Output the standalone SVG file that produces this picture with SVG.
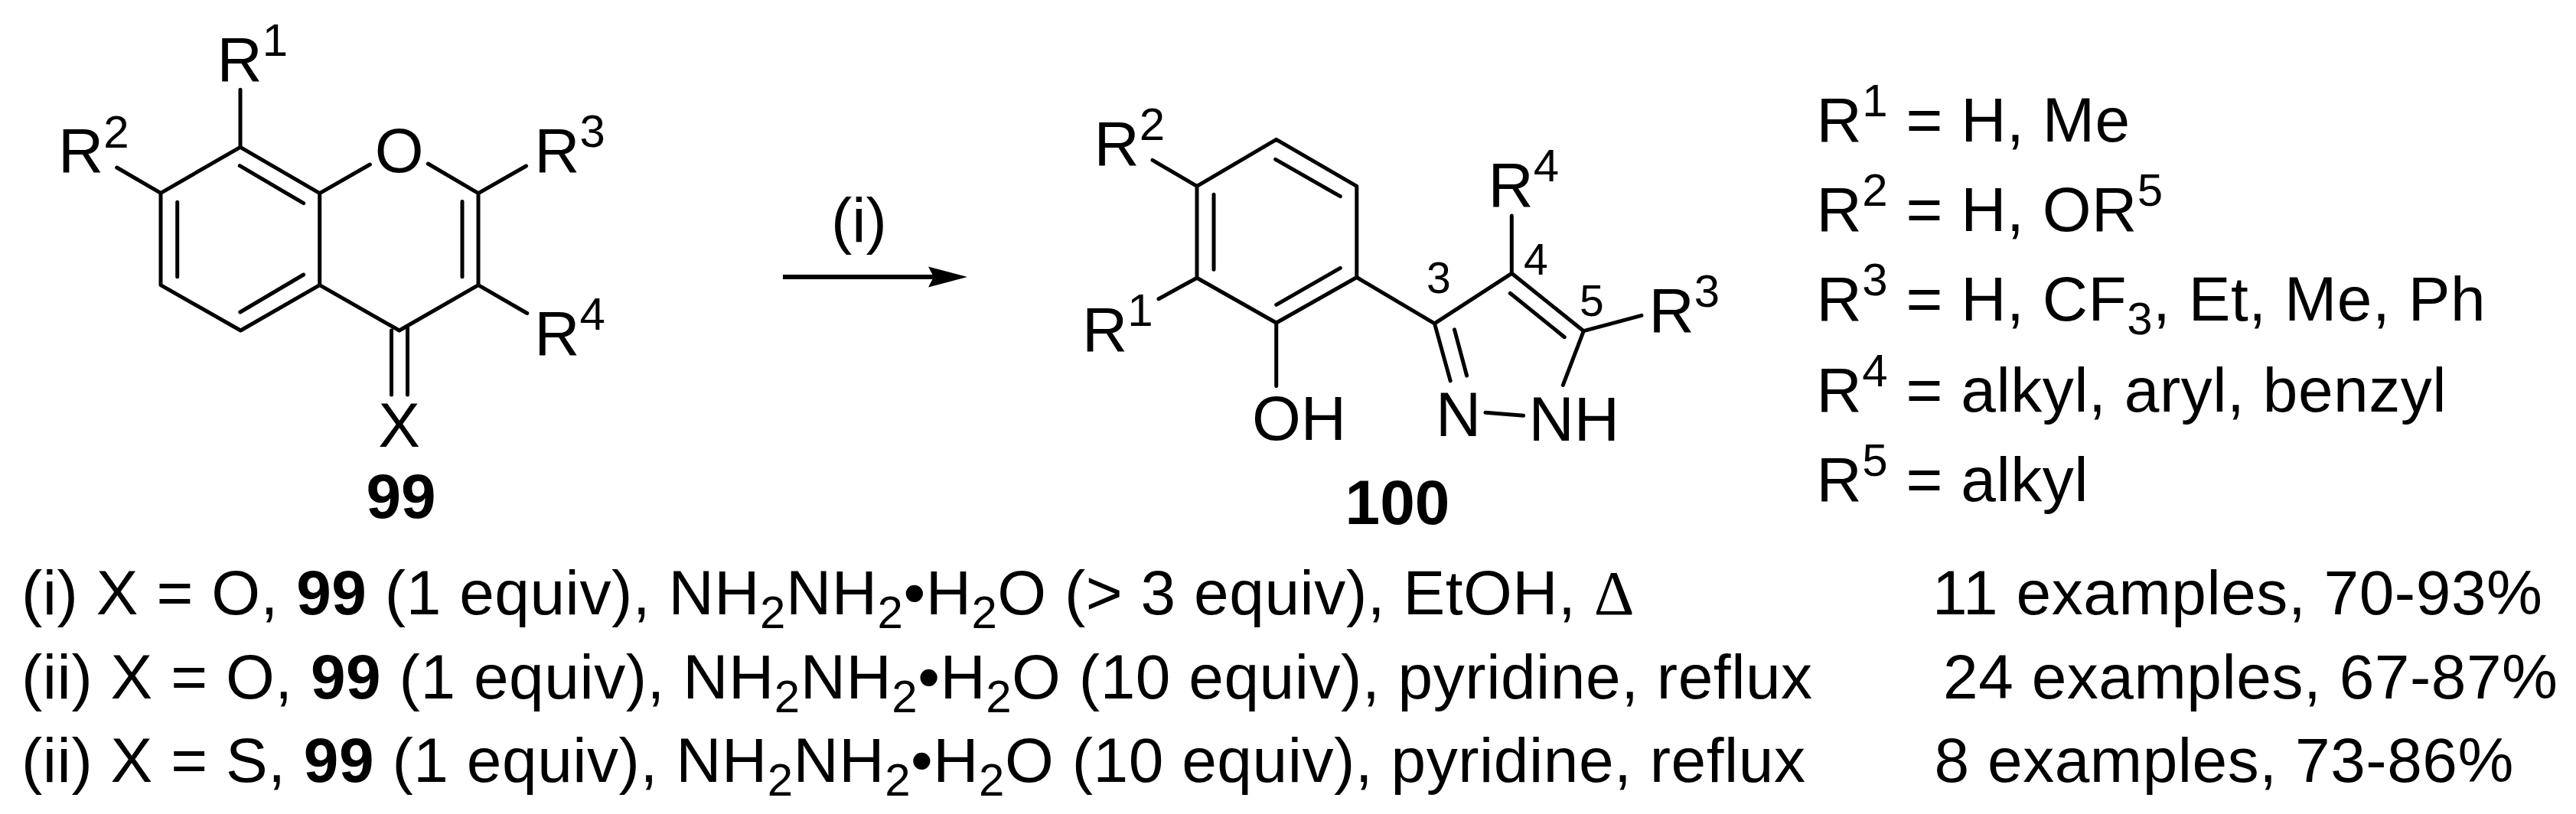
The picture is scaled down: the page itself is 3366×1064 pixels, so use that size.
<svg xmlns="http://www.w3.org/2000/svg" width="3366" height="1064" viewBox="0 0 3366 1064">
<style>
text{font-family:"Liberation Sans",Arial,sans-serif;font-size:82px;fill:#000}
.b{font-weight:700}
.s{font-size:60px}
.n{font-size:57px}
.m{text-anchor:middle}
.w{letter-spacing:.55px}
.v{letter-spacing:.55px}
.bond{fill:none;stroke:#000;stroke-width:5;stroke-linecap:round;stroke-linejoin:round}
</style>
<defs>
<marker id="head" markerUnits="userSpaceOnUse" markerWidth="52" markerHeight="28" refX="7" refY="14" orient="auto">
<path d="M0 .6L51 14L0 27.4L7 14Z" fill="#000"/>
</marker>
</defs>
<rect width="3366" height="1064" fill="#fff"/>
<g id="compound-99">
<path class="bond" d="M314 117.300V192.300L210 252.300V372.600L314.400 432L417.700 372.600V252.700L314 192.300M210 252.300L152.700 219M417.700 252.700L483.400 215M559.300 214L625 252.700V372.600L521.700 432L417.700 372.600M625 252.700L687.500 217M625 372.600L688.800 409.500M511.500 432V515.900M532.500 428V515.900M231.700 264.300V361.700M313.300 216.700L396.700 265.700M313.800 408L396.700 359M604 263.600V361.700"/>
<text x="283.500" y="106">R<tspan class="s" dy="-33">1</tspan></text>
<text x="76" y="224.500">R<tspan class="s" dy="-32">2</tspan></text>
<text class="m" x="521.700" y="225">O</text>
<text x="698.200" y="225">R<tspan class="s" dy="-33">3</tspan></text>
<text x="698.200" y="463.700">R<tspan class="s" dy="-33">4</tspan></text>
<text class="m" x="521.700" y="584">X</text>
<text class="b m" x="524" y="677">99</text>
</g>
<g id="connectors">
<line x1="1023" y1="362" x2="1220" y2="362" stroke="#000" stroke-width="6" marker-end="url(#head)"/>
</g>
<text id="arrow-label" class="m" x="1122.400" y="316">(i)</text>
<g id="compound-100">
<path class="bond" d="M1667.700 182.300L1772.800 243.300V362.500L1667.700 422L1564 363.300V243.300ZM1586 254.300V352.300M1666.700 208.300L1751.300 256.700M1667.700 398.300L1751.300 350.400M1564 243.300L1506 209.300M1564 363.300L1514 390.700M1667.700 422V504.500M1772.800 362.500L1874.500 422.800L1975.300 357.300V282M1975.300 357.300L2069.300 432.700L2145 412.300M1973.300 383.300L2044.300 440.700M2069.300 432.700L2042.300 503.300M1874.500 422.800L1895.200 497.800M1900.500 430.800L1916.600 491M1941 539.300L1990.700 543.300"/>
<text x="1429.500" y="216">R<tspan class="s" dy="-33">2</tspan></text>
<text x="1414" y="459">R<tspan class="s" dy="-33">1</tspan></text>
<text x="1944.500" y="270">R<tspan class="s" dy="-33">4</tspan></text>
<text x="2154.500" y="434.300">R<tspan class="s" dy="-33">3</tspan></text>
<text class="n" x="1864" y="383">3</text>
<text class="n" x="1991" y="358.500">4</text>
<text class="n" x="2064" y="412.500">5</text>
<text x="1636" y="574.500">OH</text>
<text x="1876" y="570">N</text>
<text x="1997.500" y="576">NH</text>
<text class="b m" x="1826" y="685">100</text>
</g>
<g id="r-groups" class="v">
<text x="2373.500" y="184.500">R<tspan class="s" dy="-33">1</tspan><tspan dy="33"> = H, Me</tspan></text>
<text x="2373.500" y="302">R<tspan class="s" dy="-33">2</tspan><tspan dy="33"> = H, OR</tspan><tspan class="s" dy="-33">5</tspan></text>
<text x="2373.500" y="419">R<tspan class="s" dy="-33">3</tspan><tspan dy="33"> = H, CF</tspan><tspan class="s" dy="18">3</tspan><tspan dy="-18">, Et, Me, Ph</tspan></text>
<text x="2373.500" y="537.600">R<tspan class="s" dy="-33">4</tspan><tspan dy="33"> = alkyl, aryl, benzyl</tspan></text>
<text x="2373.500" y="654.700">R<tspan class="s" dy="-33">5</tspan><tspan dy="33"> = alkyl</tspan></text>
</g>
<g id="conditions">
<text class="w" x="28" y="803.300">(i) X = O, <tspan class="b">99</tspan> (1 equiv), NH<tspan class="s" dy="18">2</tspan><tspan dy="-18">NH</tspan><tspan class="s" dy="18">2</tspan><tspan dy="-18">•H</tspan><tspan class="s" dy="18">2</tspan><tspan dy="-18">O (&gt; 3 equiv), EtOH, </tspan><tspan style="font-family:'Liberation Serif',serif">Δ</tspan></text>
<text class="w" x="28" y="912.700">(ii) X = O, <tspan class="b">99</tspan> (1 equiv), NH<tspan class="s" dy="18">2</tspan><tspan dy="-18">NH</tspan><tspan class="s" dy="18">2</tspan><tspan dy="-18">•H</tspan><tspan class="s" dy="18">2</tspan><tspan dy="-18">O (10 equiv), pyridine, reflux</tspan></text>
<text class="w" x="28" y="1022">(ii) X = S, <tspan class="b">99</tspan> (1 equiv), NH<tspan class="s" dy="18">2</tspan><tspan dy="-18">NH</tspan><tspan class="s" dy="18">2</tspan><tspan dy="-18">•H</tspan><tspan class="s" dy="18">2</tspan><tspan dy="-18">O (10 equiv), pyridine, reflux</tspan></text>
<text class="v" x="2525" y="803.300">11 examples, 70-93%</text>
<text class="v" x="2539" y="912.700">24 examples, 67-87%</text>
<text class="v" x="2527.500" y="1022">8 examples, 73-86%</text>
</g>
</svg>
